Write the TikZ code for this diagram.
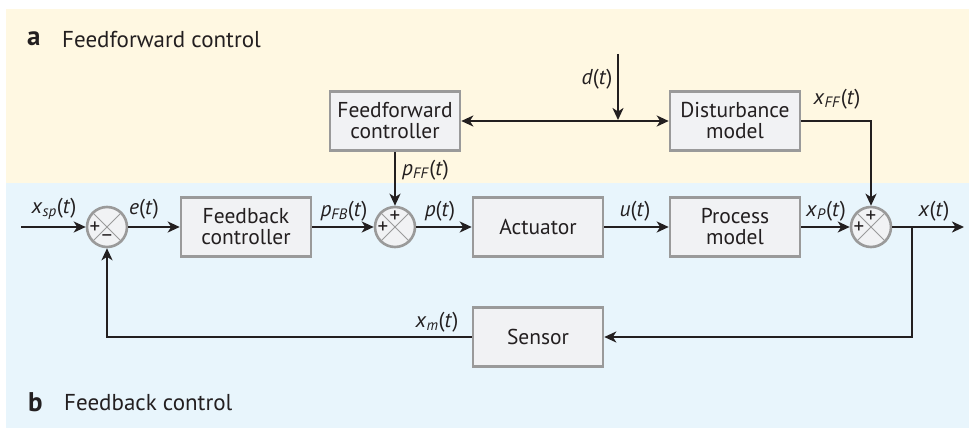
\documentclass[tikz,border=0pt]{standalone}
\usepackage{fontspec}
\setmainfont{PT Sans}
\usetikzlibrary{arrows.meta,positioning}
\definecolor{ink}{HTML}{231F20}
\definecolor{edge}{HTML}{9A9A9A}
\definecolor{boxfill}{HTML}{F1F2F4}
\definecolor{ffbg}{HTML}{FFF8E2}
\definecolor{fbbg}{HTML}{E8F5FC}
\newcommand{\sig}[2]{\textit{#1}\textsubscript{\textit{#2}}(\textit{t})}
\newcommand{\tsig}[1]{\textit{#1}(\textit{t})}

\begin{document}
\begin{tikzpicture}[x=1pt, y=-1pt,
  font=\fontsize{21.5}{21}\selectfont,
  block/.style={draw=edge, line width=2.6pt, fill=boxfill, text=ink, align=center, minimum width=130pt, minimum height=59pt, inner sep=2pt},
  summer/.style={circle, draw=edge, line width=2.6pt, fill=boxfill, minimum size=40pt, inner sep=0pt},
  cross/.style={edge, line width=1pt},
  sgn/.style={font=\fontsize{21}{21}\selectfont, text=ink, inner sep=0pt},
  sigl/.style={text=ink, inner sep=1pt},
  head/.style={anchor=west, text=ink, inner sep=0pt, font=\fontsize{23}{24}\selectfont},
  arr/.style={-{Stealth[length=12pt,width=11pt,inset=3.5pt]}, line width=2.6pt, ink},
  dbl/.style={{Stealth[length=12pt,width=11pt,inset=3.5pt]}-{Stealth[length=12pt,width=11pt,inset=3.5pt]}, line width=2.6pt, ink}
]
  \useasboundingbox (0,0) rectangle (969,428);
  % two panels
  \fill[ffbg] (6,9) rectangle (969,183);
  \fill[fbbg] (6,183) rectangle (969,428);
  \node[head, font=\fontsize{27}{28}\selectfont\bfseries] (ta) at (27,39) {a};
  \node[head] (tal) at (62,40) {Feedforward control};
  \node[head, font=\fontsize{27}{28}\selectfont\bfseries] (tb) at (28,402) {b};
  \node[head] (tbl) at (64,403) {Feedback control};

  % blocks
  \node[block] (ffc) at (395,121) {Feedforward\\controller};
  \node[block] (dist) at (735,121) {Disturbance\\model};
  \node[block] (fbc) at (246,227) {Feedback\\controller};
  \node[block] (act) at (538,227) {Actuator};
  \node[block] (proc) at (735,227) {Process\\model};
  \node[block] (sens) at (538,337) {Sensor};

  % summing points
  \node[summer] (s1) at (107,227) {};
  \node[summer] (s2) at (395,227) {};
  \node[summer] (s3) at (871,227) {};
  \foreach \s in {s1,s2,s3} {
    \draw[cross] (\s.north west) -- (\s.south east);
    \draw[cross] (\s.north east) -- (\s.south west);
  }
  \node[sgn] (s1a) at ([xshift=-12pt,yshift=-1pt]s1.center) {+};
  \node[sgn] (s1b) at ([yshift=-12pt]s1.center) {−};
  \node[sgn] (s2a) at ([yshift=10pt]s2.center) {+};
  \node[sgn] (s2b) at ([xshift=-12pt,yshift=-1pt]s2.center) {+};
  \node[sgn] (s3a) at ([yshift=10pt]s3.center) {+};
  \node[sgn] (s3b) at ([xshift=-12pt,yshift=-1pt]s3.center) {+};

  \coordinate (in) at (21,227);
  \coordinate (out) at (964,227);
  \coordinate (br) at (912,227);
  \coordinate (dtop) at (618,54);
  \coordinate (dhit) at (618,120);

  % main loop
  \draw[arr] (in) -- (s1);
  \draw[arr] (s1) -- (fbc);
  \draw[arr] (fbc) -- (s2);
  \draw[arr] (s2) -- (act);
  \draw[arr] (act) -- (proc);
  \draw[arr] (proc) -- (s3);
  \draw[arr] (s3) -- (out);
  \draw[arr] (br) |- (sens);
  \draw[arr] (sens) -| (s1);

  % feedforward path
  \draw[dbl] (ffc) -- (dist);
  \draw[arr] (dtop) -- (dhit);
  \draw[arr] (ffc) -- (s2);
  \draw[arr] (dist) -| (s3);

  % signal names
  \node[sigl] (lxsp) at (54,209) {\sig{x}{sp}};
  \node[sigl] (le) at (144,209) {\tsig{e}};
  \node[sigl] (lpfb) at (344,211) {\sig{p}{FB}};
  \node[sigl] (lp) at (440,211) {\tsig{p}};
  \node[sigl] (lu) at (635,211) {\tsig{u}};
  \node[sigl, anchor=west] (lpff) at (401,170) {\sig{p}{FF}};
  \node[sigl] (lxff) at (837,99) {\sig{x}{FF}};
  \node[sigl] (lxp) at (826,211) {\sig{x}{P}};
  \node[sigl] (lx) at (934,211) {\tsig{x}};
  \node[sigl] (lxm) at (437,322) {\sig{x}{m}};
  \node[sigl] (ld) at (597,79) {\tsig{d}};
\end{tikzpicture}
\end{document}
